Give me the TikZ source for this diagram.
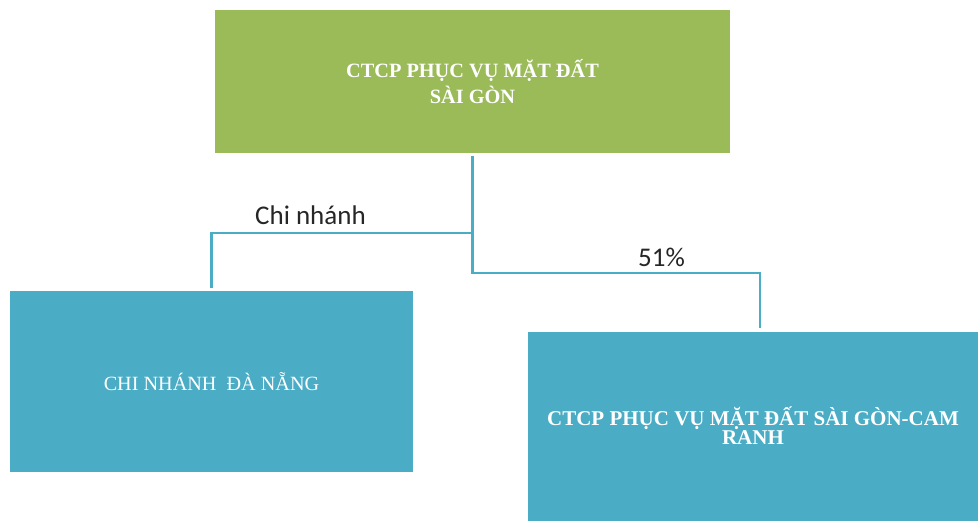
\documentclass[tikz,border=0pt]{standalone}
\usepackage{fontspec}
\setmainfont{Liberation Serif}
\newfontfamily\labelfont{Carlito}
\usepackage{tikz}
\usetikzlibrary{positioning,calc}
\definecolor{boxgreen}{HTML}{9BBB59}
\definecolor{boxblue}{HTML}{4BACC6}
\tikzset{
  orgbox/.style={rectangle,inner sep=0pt,text=white,align=center},
  link/.style={draw=boxblue,line width=2.6pt},
  linklabel/.style={anchor=base,text=black!85,font=\labelfont\fontsize{27}{32}\selectfont}
}

\begin{document}
\begin{tikzpicture}[x=1pt,y=-1pt]
  \useasboundingbox (0,0) rectangle (978,520);

  % boxes
  \node[orgbox,fill=boxgreen,minimum width=515pt,minimum height=143pt,
        font=\bfseries\fontsize{20.3}{26}\selectfont] (top) at (472.5,81.5)
        {CTCP PHỤC VỤ MẶT ĐẤT\\SÀI GÒN};
  \node[orgbox,fill=boxblue,minimum width=403pt,minimum height=181pt,
        font=\fontsize{20.2}{24}\selectfont] (branch) at (211.5,381.5)
        {CHI NHÁNH\ \ ĐÀ NẴNG};
  \node[orgbox,fill=boxblue,minimum width=450pt,minimum height=189pt,
        font=\bfseries\fontsize{21}{17}\selectfont] (sub) at (753,426)
        {CTCP PHỤC VỤ MẶT ĐẤT SÀI GÒN-CAM\\RANH};

  % connectors
  \coordinate (jl) at (472.5,233);
  \coordinate (jr) at (472.5,273);
  \coordinate (subin) at (760,328);
  \coordinate (branchin) at (211.5,288);
  \draw[link,shorten <=3pt] (top.south) -- (jr) -| (subin);
  \draw[link] (jl) -| (branchin);

  % labels
  \node[linklabel] (lbranch) at (310.5,224) {Chi nhánh};
  \node[linklabel] (lsub) at (661.5,266) {51\%};
\end{tikzpicture}
\end{document}
